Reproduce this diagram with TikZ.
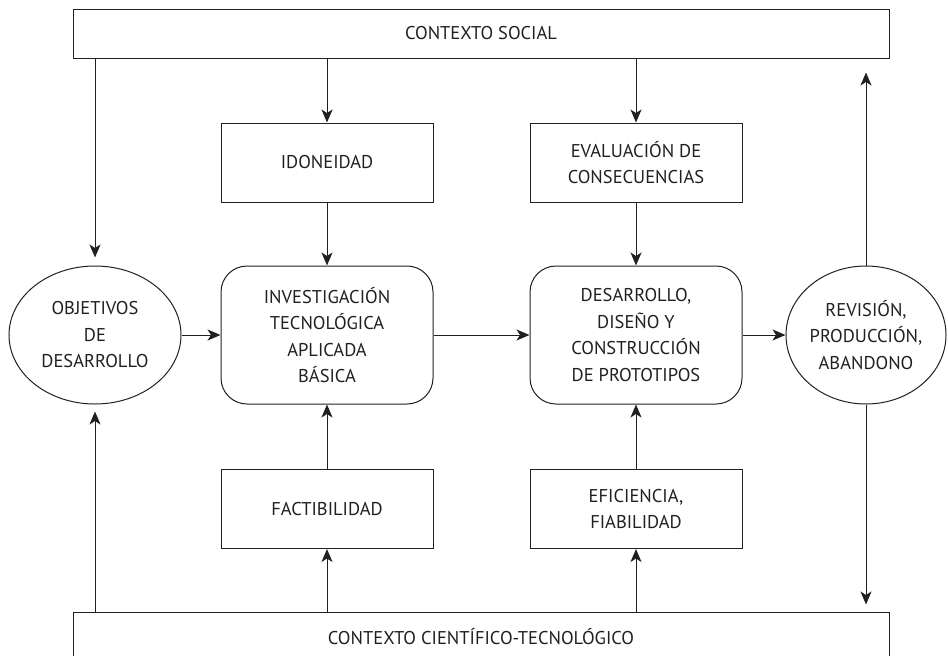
\documentclass[tikz,border=0pt]{standalone}
\usepackage{fontspec}
\setmainfont{PT Sans}
\usetikzlibrary{arrows.meta}
\usetikzlibrary{shapes.geometric}
\definecolor{lineInk}{RGB}{35,31,32}

\begin{document}
\begin{tikzpicture}[%%
  x=1pt,y=-1pt,%%
  boxStyle/.style={draw=lineInk,line width=1pt,text=lineInk,align=center,inner sep=0pt,%%
    font=\fontsize{18.5}{26.5}\selectfont,minimum width=212pt,minimum height=79pt},%%
  roundStyle/.style={boxStyle,rounded corners=26pt,minimum height=138pt},%%
  ovalStyle/.style={boxStyle,ellipse,minimum height=138pt},%%
  contextStyle/.style={boxStyle,minimum width=816pt,minimum height=49pt},%%
  arrowStyle/.style={draw=lineInk,line width=1pt,-{Stealth[length=13pt,width=11pt,inset=3.5pt]}},%%
]
%%
%%
\useasboundingbox (0,0) rectangle (948,656);
\pgfmathsetmacro{\colA}{327}
\pgfmathsetmacro{\colB}{636}
\pgfmathsetmacro{\rowMid}{335}
%% The two contexts.
\node[contextStyle] (social) at (481,33.5) {CONTEXTO SOCIAL};
\node[contextStyle] (science) at (481,636.5) {CONTEXTO CIENTÍFICO-TECNOLÓGICO};
%% The criteria.
\node[boxStyle] (idoneidad) at (\colA,162.5) {IDONEIDAD};
\node[boxStyle] (evaluacion) at (\colB,162.5) {EVALUACIÓN DE\\CONSECUENCIAS};
\node[boxStyle] (factibilidad) at (\colA,509) {FACTIBILIDAD};
\node[boxStyle] (eficiencia) at (\colB,509) {EFICIENCIA,\\FIABILIDAD};
%% The main stages.
\node[ovalStyle,minimum width=172pt] (objetivos) at (95,\rowMid) {OBJETIVOS\\DE\\DESARROLLO};
\node[roundStyle] (investigacion) at (\colA,\rowMid) {INVESTIGACIÓN\\TECNOLÓGICA\\APLICADA\\BÁSICA};
\node[roundStyle] (desarrollo) at (\colB,\rowMid) {DESARROLLO,\\DISEÑO Y\\CONSTRUCCIÓN\\DE PROTOTIPOS};
\node[ovalStyle,minimum width=160pt] (revision) at (866,\rowMid) {REVISIÓN,\\PRODUCCIÓN,\\ABANDONO};
%%
%%
%% From the social context downwards.
\draw[arrowStyle,shorten >=8pt] (social.south -| objetivos.north) -- (objetivos.north);
\draw[arrowStyle] (social.south -| idoneidad.north) -- (idoneidad.north);
\draw[arrowStyle] (idoneidad.south) -- (investigacion.north);
\draw[arrowStyle] (social.south -| evaluacion.north) -- (evaluacion.north);
\draw[arrowStyle] (evaluacion.south) -- (desarrollo.north);
%% From the scientific context upwards.
\draw[arrowStyle,shorten >=7pt] (science.north -| objetivos.south) -- (objetivos.south);
\draw[arrowStyle] (science.north -| factibilidad.south) -- (factibilidad.south);
\draw[arrowStyle] (factibilidad.north) -- (investigacion.south);
\draw[arrowStyle] (science.north -| eficiencia.south) -- (eficiencia.south);
\draw[arrowStyle] (eficiencia.north) -- (desarrollo.south);
%% The main chain.
\draw[arrowStyle] (objetivos.east) -- (investigacion.west);
\draw[arrowStyle] (investigacion.east) -- (desarrollo.west);
\draw[arrowStyle] (desarrollo.east) -- (revision.west);
%% Back to both contexts.
\draw[arrowStyle,shorten >=14pt] (revision.north) -- (revision.north |- social.south);
\draw[arrowStyle,shorten >=7pt] (revision.south) -- (revision.south |- science.north);
\end{tikzpicture}
\end{document}
